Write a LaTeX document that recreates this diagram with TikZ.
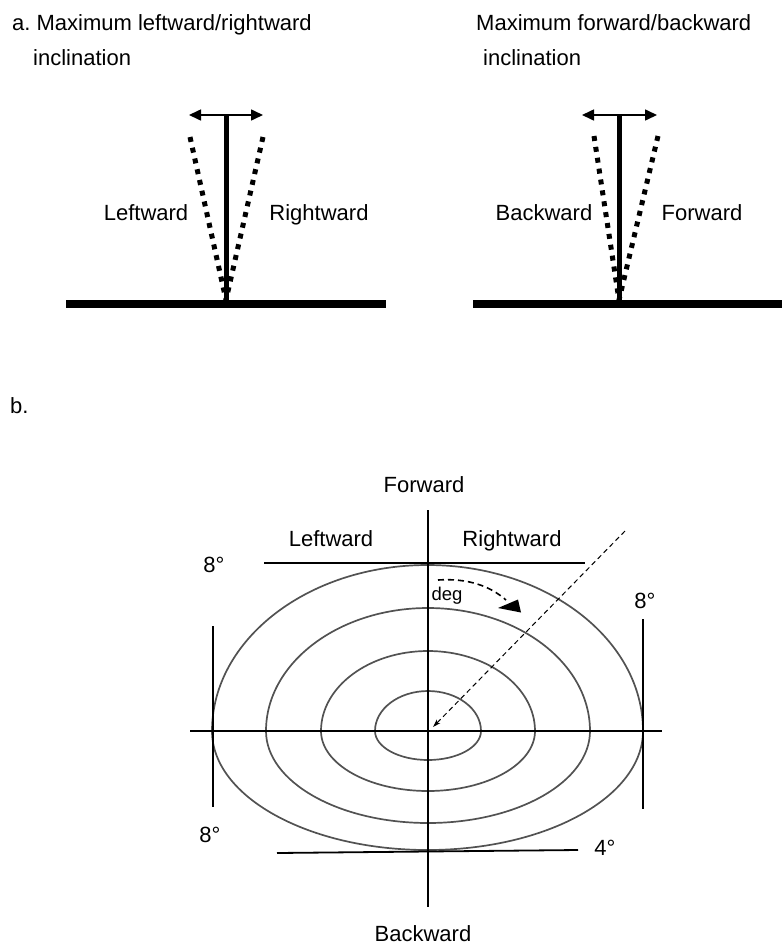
\documentclass[tikz,border=0pt]{standalone}
\usepackage{fontspec}
\setmainfont{Liberation Sans}
\usetikzlibrary{arrows.meta}
\begin{document}
\frenchspacing
\begin{tikzpicture}[x=1pt,y=-1pt,
  lbl/.style={anchor=base,inner sep=0pt,font=\fontsize{22}{26}\selectfont},
  lblw/.style={anchor=base west,inner sep=0pt,font=\fontsize{22}{26}\selectfont},
  small/.style={anchor=base,inner sep=0pt,font=\fontsize{18.5}{22}\selectfont},
  ground/.style={line width=8.5pt},
  pole/.style={line width=5pt},
  tilt/.style={line width=5pt,dash pattern=on 5pt off 6pt},
  dbl/.style={line width=1.6pt,{Triangle[length=12pt,width=11pt]}-{Triangle[length=12pt,width=11pt]}},
  axis/.style={line width=1.8pt},
  limit/.style={line width=2.2pt},
  ring/.style={line width=1.7pt,draw=black!68},
]
\useasboundingbox (0,0) rectangle (782,945);

% headings
\node[lblw] (ha1) at (12,30) {a. Maximum leftward/rightward};
\node[lblw] (ha2) at (33,65) {inclination};
\node[lblw] (hb1) at (476,30) {Maximum forward/backward};
\node[lblw] (hb2) at (483,65) {inclination};
\node[lblw] (hbb) at (10,413) {b.};

% left figure
\coordinate (g1a) at (66,304);
\coordinate (g1b) at (386,304);
\coordinate (p1top) at (226,116);
\coordinate (p1bot) at (226,300);
\coordinate (a1l) at (189,115);
\coordinate (a1r) at (263,115);
\coordinate (t1l) at (190,137);
\coordinate (t1r) at (263,137);
\draw[ground] (g1a) -- (g1b);
\draw[pole] (p1top) -- (p1bot);
\draw[tilt] (t1l) -- (p1bot);
\draw[tilt] (t1r) -- (p1bot);
\draw[dbl] (a1l) -- (a1r);
\node[lbl] (lw1) at (146,220) {Leftward};
\node[lbl] (rw1) at (319,220) {Rightward};

% right figure
\coordinate (g2a) at (473,304);
\coordinate (g2b) at (782,304);
\coordinate (p2top) at (619,116);
\coordinate (p2bot) at (619,300);
\coordinate (a2l) at (582,115);
\coordinate (a2r) at (657,115);
\coordinate (t2l) at (594,136);
\coordinate (t2r) at (658,136);
\draw[ground] (g2a) -- (g2b);
\draw[pole] (p2top) -- (p2bot);
\draw[tilt] (t2l) -- (p2bot);
\draw[tilt] (t2r) -- (p2bot);
\draw[dbl] (a2l) -- (a2r);
\node[lbl] (bw2) at (544,220) {Backward};
\node[lbl] (fw2) at (702,220) {Forward};

% part b: rings (top half taller than bottom half)
\draw[ring] (481,731) arc[start angle=0,end angle=180,x radius=53pt,y radius=40pt]
                      arc[start angle=180,end angle=360,x radius=53pt,y radius=29pt];
\draw[ring] (535,731) arc[start angle=0,end angle=180,x radius=107pt,y radius=80pt]
                      arc[start angle=180,end angle=360,x radius=107pt,y radius=60pt];
\draw[ring] (590,731) arc[start angle=0,end angle=180,x radius=162pt,y radius=123pt]
                      arc[start angle=180,end angle=360,x radius=162pt,y radius=92pt];
\draw[ring] (643,731) arc[start angle=0,end angle=180,x radius=215.5pt,y radius=166pt]
                      arc[start angle=180,end angle=360,x radius=215.5pt,y radius=119pt];

% axes
\coordinate (vt) at (428,510);
\coordinate (vb) at (428,907);
\coordinate (hl) at (190,731);
\coordinate (hr) at (662,731);
\draw[axis] (vt) -- (vb);
\draw[axis] (hl) -- (hr);

% limit lines
\coordinate (tl1) at (264,563);
\coordinate (tl2) at (585,563);
\coordinate (bl1) at (277,853);
\coordinate (bl2) at (578,850);
\coordinate (ll1) at (213,626);
\coordinate (ll2) at (213,807);
\coordinate (rl1) at (643,619);
\coordinate (rl2) at (643,809);
\draw[limit] (tl1) -- (tl2);
\draw[line width=1.8pt] (bl1) -- (bl2);
\draw[limit] (ll1) -- (ll2);
\draw[line width=2pt] (rl1) -- (rl2);

% direction arrows
\coordinate (dA) at (625,531);
\coordinate (dB) at (433,727);
\draw[line width=1pt,dash pattern=on 5pt off 3.5pt,-{Stealth[length=8pt,width=5pt]}] (dA) -- (dB);
\coordinate (cA) at (438,580);
\coordinate (cB) at (506,600);
\draw[line width=1.6pt,dash pattern=on 6pt off 4pt]
  (cA) .. controls (468,578) and (490,586) .. (cB);
\fill (498,608) -- (518,599.5) -- (521,612.5) -- cycle;

% labels part b
\node[lbl] (fwd) at (424,492) {Forward};
\node[lbl] (bwd) at (423,941) {Backward};
\node[lbl] (lwb) at (331,546) {Leftward};
\node[lbl] (rwb) at (512,546) {Rightward};
\node[lbl] (d1) at (214,572) {8°};
\node[lbl] (d2) at (210,842) {8°};
\node[lbl] (d3) at (645,608) {8°};
\node[lbl] (d4) at (605,855) {4°};
\node[small] (deg) at (447,600) {deg};
\end{tikzpicture}
\end{document}
